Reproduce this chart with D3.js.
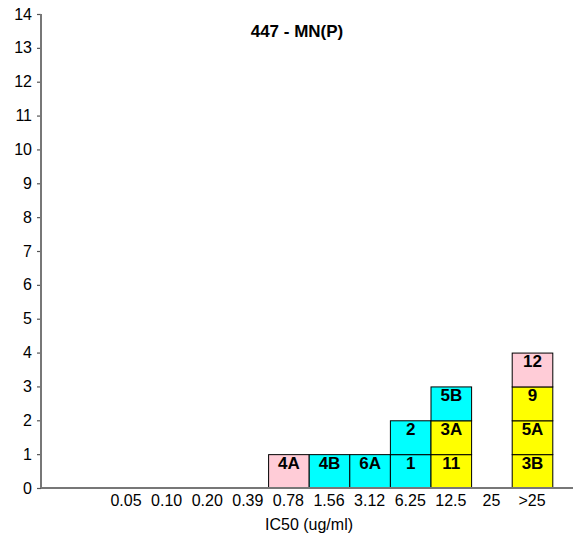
<!DOCTYPE html>
<html>
<head>
<meta charset="utf-8">
<script src="https://cdn.jsdelivr.net/npm/d3@7"></script>
<style>
  html, body { margin: 0; padding: 0; background: #fff; }
  svg { display: block; font-family: "Liberation Sans", Arial, sans-serif; }
</style>
</head>
<body>
<svg id="chart" width="573" height="538"></svg>
<script>
// IC50 bins on the x axis
const categories = ["0.05", "0.10", "0.20", "0.39", "0.78", "1.56", "3.12", "6.25", "12.5", "25", ">25"];
// y axis ticks
const yTicks = [0, 1, 2, 3, 4, 5, 6, 7, 8, 9, 10, 11, 12, 13, 14];
// one stacked cell per compound, listed bottom to top within each bin
const cellBin   = ["0.78", "1.56", "3.12", "6.25", "6.25", "12.5", "12.5", "12.5", ">25", ">25", ">25", ">25"];
const cellLabel = ["4A",   "4B",   "6A",   "1",    "2",    "11",   "3A",   "5B",   "3B",  "5A",  "9",   "12"];
const cellGroup = ["pink", "cyan", "cyan", "cyan", "cyan", "yellow","yellow","cyan","yellow","yellow","yellow","pink"];

const title = "447 - MN(P)";
const xTitle = "IC50 (ug/ml)";

const svg = d3.select("#chart");
const axisLeft = 41, axisRight = 573, axisBottom = 488, axisTop = 14;

const x = d3.scaleBand().domain(categories).range([105.7, 552.3]).padding(0);
const y = d3.scaleLinear().domain([0, 14]).range([axisBottom, axisTop]);
const color = d3.scaleOrdinal().domain(["pink", "cyan", "yellow"]).range(["#FFCCD7", "#00FFFF", "#FFFF00"]);

// stack cells: each occupies one unit above the previous in its bin
const counts = {};
const cells = cellBin.map((bin, i) => {
  const base = counts[bin] || 0;
  counts[bin] = base + 1;
  return { bin, label: cellLabel[i], group: cellGroup[i], y0: base, y1: base + 1 };
});

const g = svg.append("g");

g.selectAll("rect.cell").data(cells).join("rect")
  .attr("class", "cell")
  .attr("x", d => x(d.bin) + 0.5)
  .attr("y", d => y(d.y1) + 0.5)
  .attr("width", x.bandwidth())
  .attr("height", d => y(d.y0) - y(d.y1))
  .attr("fill", d => color(d.group))
  .attr("stroke", "#000")
  .attr("stroke-width", 1);

g.selectAll("text.cell-label").data(cells).join("text")
  .attr("class", "cell-label")
  .attr("x", d => x(d.bin) + x.bandwidth() / 2 + 0.5)
  .attr("y", d => y(d.y1) + 14.5)
  .attr("text-anchor", "middle")
  .attr("font-size", 17)
  .attr("font-weight", "bold")
  .attr("fill", "#000")
  .text(d => d.label);

// y axis
const yAxis = d3.axisLeft(y).tickValues(yTicks).tickSize(4).tickPadding(5).tickFormat(d3.format("d"));
const yg = svg.append("g").attr("transform", `translate(${axisLeft},0)`).call(yAxis);
yg.select(".domain").remove();
yg.selectAll(".tick line").attr("stroke", "#555").attr("stroke-width", 1.2);
yg.selectAll(".tick text").attr("font-size", 16).attr("fill", "#000")
  .attr("font-family", "Liberation Sans, Arial, sans-serif");
svg.append("line").attr("x1", axisLeft).attr("x2", axisLeft).attr("y1", axisTop).attr("y2", axisBottom)
  .attr("stroke", "#777").attr("stroke-width", 2);

// x axis
const xAxis = d3.axisBottom(x).tickSize(0).tickPadding(7);
const xg = svg.append("g").attr("transform", `translate(0,${axisBottom})`).call(xAxis);
xg.select(".domain").remove();
xg.selectAll(".tick text").attr("font-size", 16).attr("fill", "#000")
  .attr("font-family", "Liberation Sans, Arial, sans-serif");
svg.append("line").attr("x1", axisLeft).attr("x2", axisRight).attr("y1", axisBottom).attr("y2", axisBottom)
  .attr("stroke", "#777").attr("stroke-width", 2);

// titles
svg.append("text").attr("x", 297).attr("y", 37).attr("text-anchor", "middle")
  .attr("font-size", 17).attr("font-weight", "bold").text(title);
svg.append("text").attr("x", 309).attr("y", 530).attr("text-anchor", "middle")
  .attr("font-size", 16).text(xTitle);
</script>
</body>
</html>
